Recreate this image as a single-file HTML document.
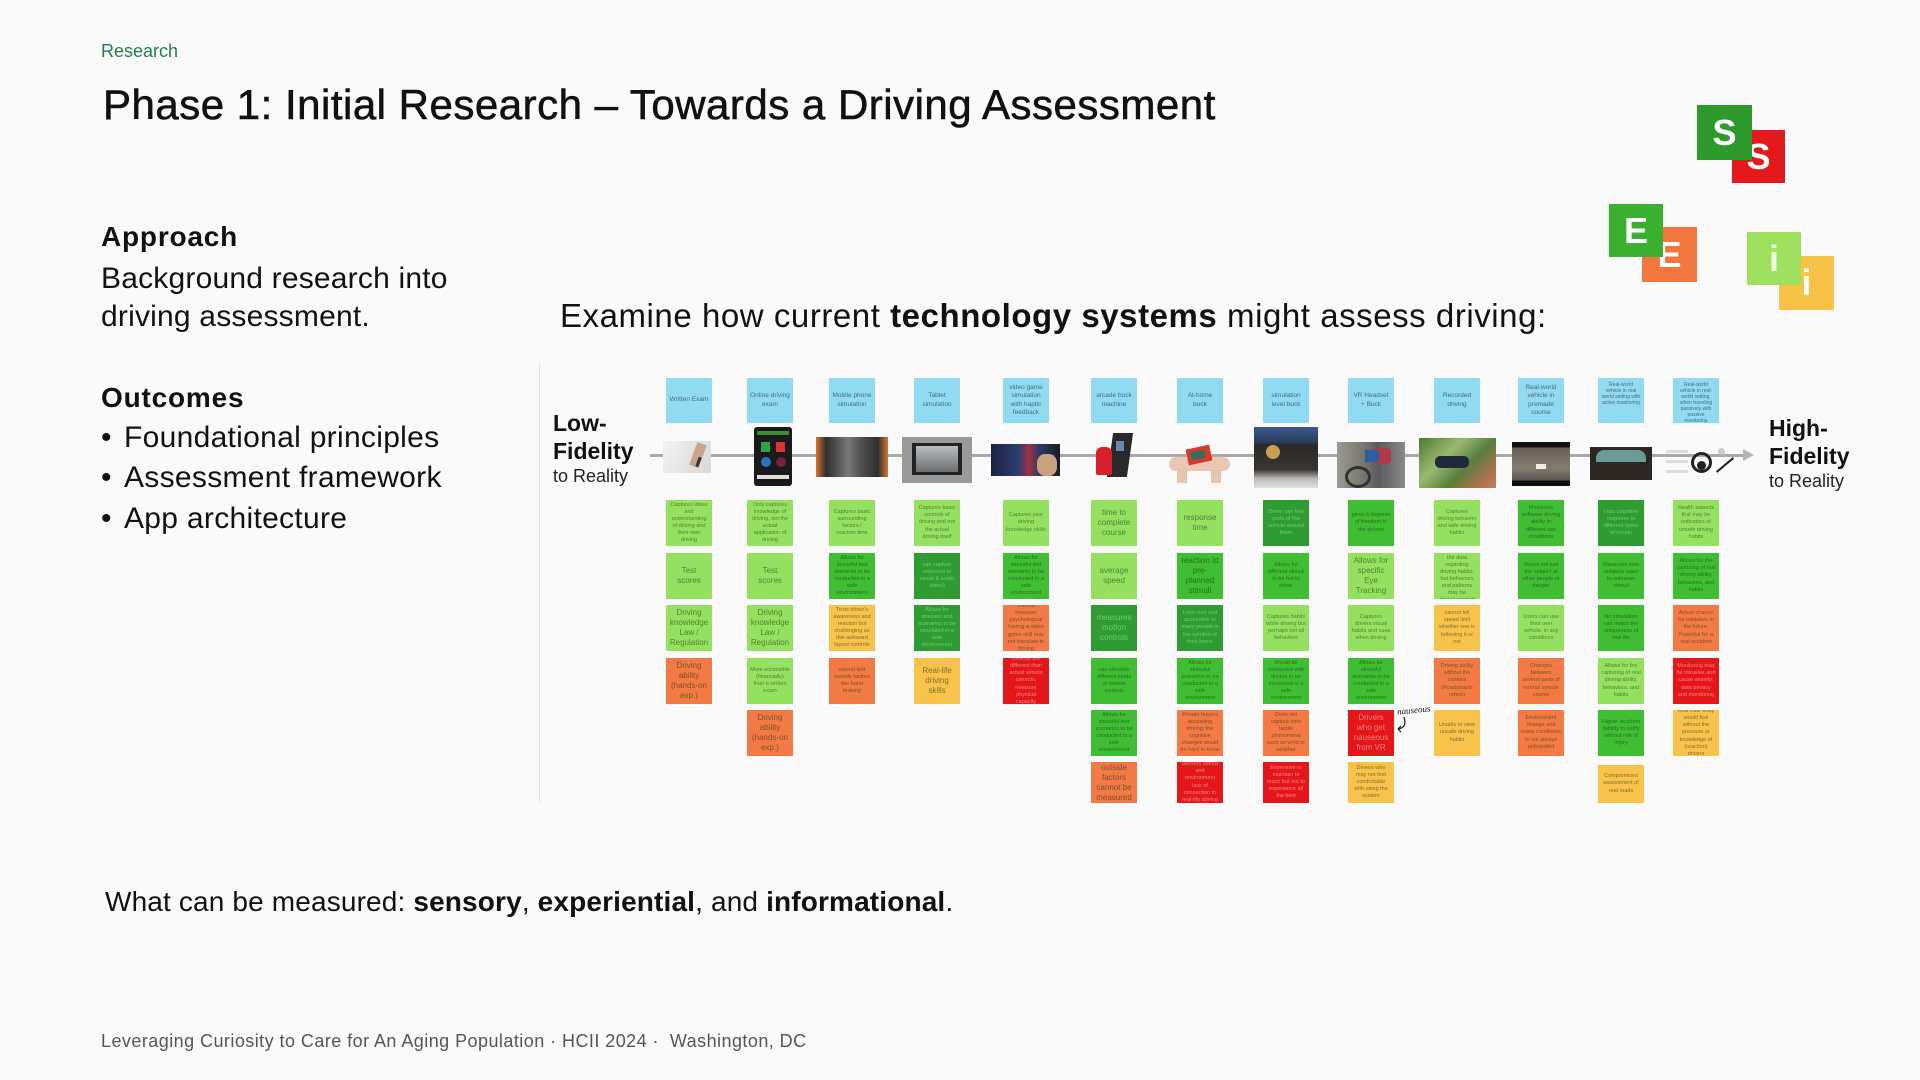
<!DOCTYPE html>
<html><head><meta charset="utf-8"><style>
body{margin:0;width:1920px;height:1080px;background:#fafafa;position:relative;overflow:hidden;font-family:"Liberation Sans",sans-serif;color:#111}
.a{position:absolute;white-space:nowrap;line-height:1}
.n{position:absolute;width:46px;height:46px;display:flex;align-items:center;justify-content:center;text-align:center;font-size:5.5px;line-height:1.3;color:rgba(20,45,20,.55);box-sizing:border-box;padding:3px;white-space:normal;overflow:hidden}
.s{font-size:8px;line-height:1.25}
.h{height:45px;font-size:6.5px;color:rgba(40,60,70,.7)}
.hl{font-size:5px;line-height:1.2;align-items:flex-start;padding-top:4px}
.b{background:#90dbf2}
.lg{background:#94e160}
.g{background:#3fbd33}
.dg{background:#2e9c33;color:rgba(170,235,160,.55)}
.y{background:#f8c24b}
.o{background:#f37a44}
.r{background:#e4161a;color:rgba(255,200,200,.6)}
.r6{height:41px}
.im{position:absolute;overflow:hidden}
.sq{position:absolute;display:flex;align-items:center;justify-content:center;color:#fff;font-weight:bold;font-size:36px;line-height:1}
</style></head><body>

<div class="a" style="left:101px;top:42px;font-size:18px;color:#1f7f50">Research</div>
<div class="a" style="left:103px;top:84px;font-size:42px;letter-spacing:0.5px;-webkit-text-stroke:0.6px #111">Phase 1: Initial Research – Towards a Driving Assessment</div>

<div class="a" style="left:101px;top:223px;font-size:28px;font-weight:bold;letter-spacing:0.8px">Approach</div>
<div class="a" style="left:101px;top:264px;font-size:30px;letter-spacing:0.2px">Background research into</div>
<div class="a" style="left:101px;top:302px;font-size:30px;letter-spacing:0.2px">driving assessment.</div>

<div class="a" style="left:101px;top:384px;font-size:28px;font-weight:bold;letter-spacing:0.8px">Outcomes</div>
<div class="a" style="left:101px;top:423px;font-size:30px">•</div><div class="a" style="left:124px;top:423px;font-size:30px;letter-spacing:0.3px">Foundational principles</div>
<div class="a" style="left:101px;top:463px;font-size:30px">•</div><div class="a" style="left:124px;top:463px;font-size:30px;letter-spacing:0.3px">Assessment framework</div>
<div class="a" style="left:101px;top:504px;font-size:30px">•</div><div class="a" style="left:124px;top:504px;font-size:30px;letter-spacing:0.3px">App architecture</div>

<div class="a" style="left:560px;top:299px;font-size:33px;letter-spacing:0.55px">Examine how current <b>technology systems</b> might assess driving:</div>

<!-- SEI logos -->
<div class="sq" style="left:1732px;top:130px;width:53px;height:53px;background:#e3191b">S</div>
<div class="sq" style="left:1697px;top:105px;width:55px;height:55px;background:#2f9a2c">S</div>
<div class="sq" style="left:1642px;top:227px;width:55px;height:55px;background:#f2773e">E</div>
<div class="sq" style="left:1609px;top:204px;width:54px;height:53px;background:#3bb030">E</div>
<div class="sq" style="left:1779px;top:256px;width:55px;height:54px;background:#f8c247">i</div>
<div class="sq" style="left:1747px;top:232px;width:54px;height:53px;background:#9fe05e;color:rgba(255,255,255,.85)">i</div>

<!-- chart -->
<div style="position:absolute;left:539px;top:364px;width:1px;height:438px;background:#e2e2e2"></div>

<div class="a" style="left:553px;top:412px;font-size:23px;font-weight:bold">Low-</div>
<div class="a" style="left:553px;top:440px;font-size:23px;font-weight:bold">Fidelity</div>
<div class="a" style="left:553px;top:467px;font-size:18px;color:#222">to Reality</div>

<div class="a" style="left:1769px;top:417px;font-size:23px;font-weight:bold">High-</div>
<div class="a" style="left:1769px;top:445px;font-size:23px;font-weight:bold">Fidelity</div>
<div class="a" style="left:1769px;top:472px;font-size:18px;color:#222">to Reality</div>

<!-- timeline -->
<div style="position:absolute;left:650px;top:454px;width:1095px;height:3px;background:#a9a9a9"></div>
<div style="position:absolute;left:1743px;top:449px;width:0;height:0;border-top:6px solid transparent;border-bottom:6px solid transparent;border-left:11px solid #b5b5b5"></div>

<!-- images -->
<div class="im" style="left:663px;top:441px;width:48px;height:32px;background:linear-gradient(120deg,#f2f2f2,#d8d8d8)"><div style="position:absolute;left:30px;top:2px;width:10px;height:24px;background:#c9a58c;transform:rotate(20deg)"></div><div style="position:absolute;left:34px;top:16px;width:3px;height:10px;background:#333;transform:rotate(20deg)"></div></div>
<div class="im" style="left:754px;top:427px;width:38px;height:59px;background:#1a1a1a;border-radius:3px"><div style="position:absolute;left:3px;top:4px;width:32px;height:4px;background:#3c8a3c"></div><div style="position:absolute;left:7px;top:15px;width:9px;height:10px;background:#2ca34a"></div><div style="position:absolute;left:22px;top:15px;width:9px;height:10px;background:#d33"></div><div style="position:absolute;left:7px;top:30px;width:10px;height:10px;background:#2a6fc0;border-radius:50%"></div><div style="position:absolute;left:22px;top:30px;width:10px;height:10px;background:#7a2040;border-radius:50%"></div><div style="position:absolute;left:3px;top:48px;width:32px;height:4px;background:#ddd"></div></div>
<div class="im" style="left:816px;top:437px;width:72px;height:40px;background:linear-gradient(90deg,#d9772f 0,#2e2e2e 14%,#7a7a78 45%,#555 60%,#2e2e2e 86%,#d9772f 100%)"></div>
<div class="im" style="left:902px;top:437px;width:70px;height:46px;background:#9a9a9a"><div style="position:absolute;left:10px;top:6px;width:50px;height:32px;background:#222"></div><div style="position:absolute;left:14px;top:9px;width:42px;height:26px;background:linear-gradient(#b8bcc0,#6a6e70)"></div></div>
<div class="im" style="left:991px;top:444px;width:69px;height:32px;background:linear-gradient(90deg,#1b2440,#2c3e70 40%,#a03040 55%,#2a3a66 70%,#1a1a22)"><div style="position:absolute;left:46px;top:10px;width:20px;height:22px;background:#c9a080;border-radius:40%"></div></div>
<div class="im" style="left:1092px;top:433px;width:45px;height:47px"><div style="position:absolute;left:18px;top:0;width:20px;height:44px;background:#2a2a2a;transform:skewX(-8deg)"></div><div style="position:absolute;left:4px;top:14px;width:16px;height:28px;background:#d8202a;border-radius:6px 6px 2px 2px"></div><div style="position:absolute;left:24px;top:8px;width:8px;height:10px;background:#6a8ab0"></div></div>
<div class="im" style="left:1169px;top:443px;width:61px;height:40px"><div style="position:absolute;left:0;top:14px;width:61px;height:14px;background:#eac7b2;border-radius:7px"></div><div style="position:absolute;left:18px;top:4px;width:24px;height:16px;background:#d43a2e;transform:rotate(-12deg)"></div><div style="position:absolute;left:22px;top:8px;width:14px;height:8px;background:#3a6a5a;transform:rotate(-12deg)"></div><div style="position:absolute;left:8px;top:26px;width:10px;height:14px;background:#e8c4ac"></div><div style="position:absolute;left:42px;top:26px;width:10px;height:14px;background:#e8c4ac"></div></div>
<div class="im" style="left:1254px;top:427px;width:64px;height:61px;background:linear-gradient(#3a5a8c 0,#2b3b5a 25%,#2a2a2a 30%,#3a3530 70%,#bcbcbc 85%,#e0e0e0)"><div style="position:absolute;left:12px;top:18px;width:14px;height:14px;background:#c8a050;border-radius:50%"></div></div>
<div class="im" style="left:1337px;top:442px;width:68px;height:46px;background:linear-gradient(90deg,#9a9a92,#77776e 40%,#5a5a60 60%,#8a8a88)"><div style="position:absolute;left:36px;top:6px;width:18px;height:16px;background:#b03848;border-radius:4px"></div><div style="position:absolute;left:28px;top:8px;width:14px;height:12px;background:#2a60a0"></div><div style="position:absolute;left:8px;top:24px;width:26px;height:22px;border:3px solid #333;border-radius:50%;box-sizing:border-box"></div></div>
<div class="im" style="left:1419px;top:438px;width:77px;height:50px;background:linear-gradient(135deg,#4f7a30,#9ab870 35%,#5a8040 60%,#b07050 85%,#c08060)"><div style="position:absolute;left:16px;top:18px;width:34px;height:12px;background:#1e2a3a;border-radius:5px"></div></div>
<div class="im" style="left:1512px;top:442px;width:58px;height:44px;background:linear-gradient(#111 0,#111 12%,#6a625a 13%,#847a6e 60%,#5a544e 87%,#111 88%)"><div style="position:absolute;left:24px;top:22px;width:10px;height:5px;background:#eee"></div></div>
<div class="im" style="left:1590px;top:447px;width:62px;height:33px;background:#2b2622"><div style="position:absolute;left:6px;top:3px;width:50px;height:12px;background:#6a9a96;border-radius:8px 8px 0 0"></div></div>
<div class="im" style="left:1666px;top:444px;width:80px;height:34px"><div style="position:absolute;left:0;top:6px;width:22px;height:3px;background:#ddd"></div><div style="position:absolute;left:0;top:16px;width:22px;height:3px;background:#ddd"></div><div style="position:absolute;left:0;top:26px;width:22px;height:3px;background:#ddd"></div><div style="position:absolute;left:25px;top:8px;width:21px;height:21px;border:3px solid #222;border-radius:50%;box-sizing:border-box"></div><div style="position:absolute;left:31px;top:17px;width:9px;height:9px;background:#222;border-radius:50%"></div><div style="position:absolute;left:52px;top:4px;width:7px;height:7px;background:#ccc;border-radius:50%"></div><div style="position:absolute;left:48px;top:20px;width:22px;height:2px;background:#222;transform:rotate(-40deg)"></div></div>

<!-- columns -->
<div class="n b h" style="left:666px;top:378px">Written Exam</div>
<div class="n lg" style="left:666px;top:500px">Captures ideas and understanding of driving and their own driving</div>
<div class="n lg s" style="left:666px;top:553px">Test scores</div>
<div class="n lg s" style="left:666px;top:605px">Driving knowledge Law / Regulation</div>
<div class="n o s" style="left:666px;top:658px">Driving ability (hands-on exp.)</div>

<div class="n b h" style="left:747px;top:378px">Online driving exam</div>
<div class="n lg" style="left:747px;top:500px">Only captures knowledge of driving, not the actual application of driving</div>
<div class="n lg s" style="left:747px;top:553px">Test scores</div>
<div class="n lg s" style="left:747px;top:605px">Driving knowledge Law / Regulation</div>
<div class="n lg" style="left:747px;top:658px">More accessible (financially) than a written exam</div>
<div class="n o s" style="left:747px;top:710px">Driving ability (hands-on exp.)</div>

<div class="n b h" style="left:829px;top:378px">Mobile phone simulation</div>
<div class="n lg" style="left:829px;top:500px">Captures basic surrounding factors / reaction time</div>
<div class="n g" style="left:829px;top:553px">Allows for stressful test elements to be conducted in a safe environment</div>
<div class="n y" style="left:829px;top:605px">Tests driver's awareness and reaction but challenging as this awkward layout controls</div>
<div class="n o" style="left:829px;top:658px">cannot test outside factors like hand braking</div>

<div class="n b h" style="left:914px;top:378px">Tablet simulation</div>
<div class="n lg" style="left:914px;top:500px">Captures basic controls of driving and not the actual driving itself</div>
<div class="n dg" style="left:914px;top:553px">can capture response to visual &amp; audio stimuli</div>
<div class="n dg" style="left:914px;top:605px">Allows for stresses and scenarios to be simulated in a safe environment</div>
<div class="n y s" style="left:914px;top:658px">Real-life driving skills</div>

<div class="n b h" style="left:1003px;top:378px">video game simulation with haptic feedback</div>
<div class="n lg" style="left:1003px;top:500px">Captures your driving knowledge skills</div>
<div class="n g" style="left:1003px;top:553px">Allows for stressful test elements to be conducted in a safe environment</div>
<div class="n o" style="left:1003px;top:605px">Cannot measure psychological having a video game skill may not translate to driving</div>
<div class="n r" style="left:1003px;top:658px">controls are different than actual vehicle controls, measure physical capacity</div>

<div class="n b h" style="left:1091px;top:378px">arcade buck machine</div>
<div class="n lg s" style="left:1091px;top:500px">time to complete course</div>
<div class="n lg s" style="left:1091px;top:553px">average speed</div>
<div class="n dg s" style="left:1091px;top:605px">measures motion controls</div>
<div class="n g" style="left:1091px;top:658px">can simulate different kinds of vehicle controls</div>
<div class="n g" style="left:1091px;top:710px">Allows for stressful test scenarios to be conducted in a safe environment</div>
<div class="n o s r6" style="left:1091px;top:762px">outside factors cannot be measured</div>

<div class="n b h" style="left:1177px;top:378px">At-home buck</div>
<div class="n lg s" style="left:1177px;top:500px">response time</div>
<div class="n g s" style="left:1177px;top:553px">reaction to pre-planned stimuli</div>
<div class="n dg" style="left:1177px;top:605px">Less cost and accessible to many people in the comfort of their home</div>
<div class="n g" style="left:1177px;top:658px">Allows for stressful scenarios to be conducted in a safe environment</div>
<div class="n o" style="left:1177px;top:710px">Private buyers accessing driving; the cognitive changes would be hard to know</div>
<div class="n r r6" style="left:1177px;top:762px">Sensory stimuli and environment lack of connection to real-life driving</div>

<div class="n b h" style="left:1263px;top:378px">simulation level buck</div>
<div class="n dg" style="left:1263px;top:500px">Driver can feel parts of the vehicle around them</div>
<div class="n g" style="left:1263px;top:553px">Allows for different stimuli to be fed to driver</div>
<div class="n lg" style="left:1263px;top:605px">Captures habits while driving but perhaps not all behaviors</div>
<div class="n g" style="left:1263px;top:658px">Would be conducted with drivers to be measured in a safe environment</div>
<div class="n o" style="left:1263px;top:710px">Does not capture core tactile phenomena such as wind or weather</div>
<div class="n r r6" style="left:1263px;top:762px">Expensive to maintain to much but not to experience all the best</div>

<div class="n b h" style="left:1348px;top:378px">VR Headset + Buck</div>
<div class="n g" style="left:1348px;top:500px">gives 6 degrees of freedom to the drivers</div>
<div class="n lg s" style="left:1348px;top:553px">Allows for specific Eye Tracking</div>
<div class="n lg" style="left:1348px;top:605px">Captures drivers visual habits and cues when driving</div>
<div class="n g" style="left:1348px;top:658px">Allows for stressful scenarios to be conducted in a safe environment</div>
<div class="n r s" style="left:1348px;top:710px">Drivers who get nauseous from VR</div>
<div class="n y r6" style="left:1348px;top:762px">Drivers who may not feel comfortable with using the system</div>
<div class="a" style="left:1397px;top:706px;font-size:9px;font-style:italic;font-family:'Liberation Serif',serif;transform:rotate(-6deg)">nauseous</div>
<svg style="position:absolute;left:1395px;top:716px" width="14" height="18"><path d="M9 1 C11 8 10 12 3 13 M3 13 L6 10 M3 13 L6 16" stroke="#111" stroke-width="1.2" fill="none"/></svg>

<div class="n b h" style="left:1434px;top:378px">Recorded driving</div>
<div class="n lg" style="left:1434px;top:500px">Captures driving behavior and safe driving habits</div>
<div class="n lg" style="left:1434px;top:553px">It can provide the data regarding driving habits, but behaviors and patterns may be misinterpreted</div>
<div class="n y" style="left:1434px;top:605px">cannot tell speed limit whether one is following it or not</div>
<div class="n o" style="left:1434px;top:658px">Driving ability without the camera (Roadsmarts refers)</div>
<div class="n y" style="left:1434px;top:710px">Unable to view unsafe driving habits</div>

<div class="n b h" style="left:1518px;top:378px">Real-world vehicle in premade course</div>
<div class="n g" style="left:1518px;top:500px">Measures software driving ability in different use conditions</div>
<div class="n g" style="left:1518px;top:553px">Stress not just the subject at other people or danger</div>
<div class="n lg" style="left:1518px;top:605px">Users can use their own vehicle, in any conditions</div>
<div class="n o" style="left:1518px;top:658px">Changes between several parts of normal vehicle course</div>
<div class="n o" style="left:1518px;top:710px">Environment change and many conditions to not always anticipated</div>

<div class="n b h hl" style="left:1598px;top:378px">Real-world vehicle in real world setting with active monitoring</div>
<div class="n dg" style="left:1598px;top:500px">Less cognitive response to different types of terrain</div>
<div class="n g" style="left:1598px;top:553px">Measures how subjects react to unknown stimuli</div>
<div class="n g" style="left:1598px;top:605px">No simulation can match the uniqueness of real life</div>
<div class="n lg" style="left:1598px;top:658px">Allows for the capturing of real driving ability, behaviors, and habits</div>
<div class="n g" style="left:1598px;top:710px">Higher accident liability to notify without risk of injury</div>
<div class="n y r6" style="left:1598px;top:765px;height:38px">Compromises assessment of real roads</div>

<div class="n b h hl" style="left:1673px;top:378px">Real-world vehicle in real-world setting, when traveling passively with passive monitoring</div>
<div class="n lg" style="left:1673px;top:500px">Health aspects that may be indicators of unsafe driving habits</div>
<div class="n g" style="left:1673px;top:553px">Allows for the capturing of real driving ability, behaviors, and habits</div>
<div class="n o" style="left:1673px;top:605px">Actual chance for mistakes in the future. Potential for a real accident</div>
<div class="n r" style="left:1673px;top:658px">Monitoring may be intrusive and cause anxiety; data privacy and monitoring</div>
<div class="n y" style="left:1673px;top:710px">How their body would feel without the pressure or knowledge of (reaction) drivers</div>

<div class="a" style="left:105px;top:888px;font-size:28px;letter-spacing:0.15px">What can be measured: <b>sensory</b>, <b>experiential</b>, and <b>informational</b>.</div>

<div class="a" style="left:101px;top:1032px;font-size:18px;letter-spacing:0.45px;color:#555">Leveraging Curiosity to Care for An Aging Population · HCII 2024 ·&nbsp; Washington, DC</div>

</body></html>
